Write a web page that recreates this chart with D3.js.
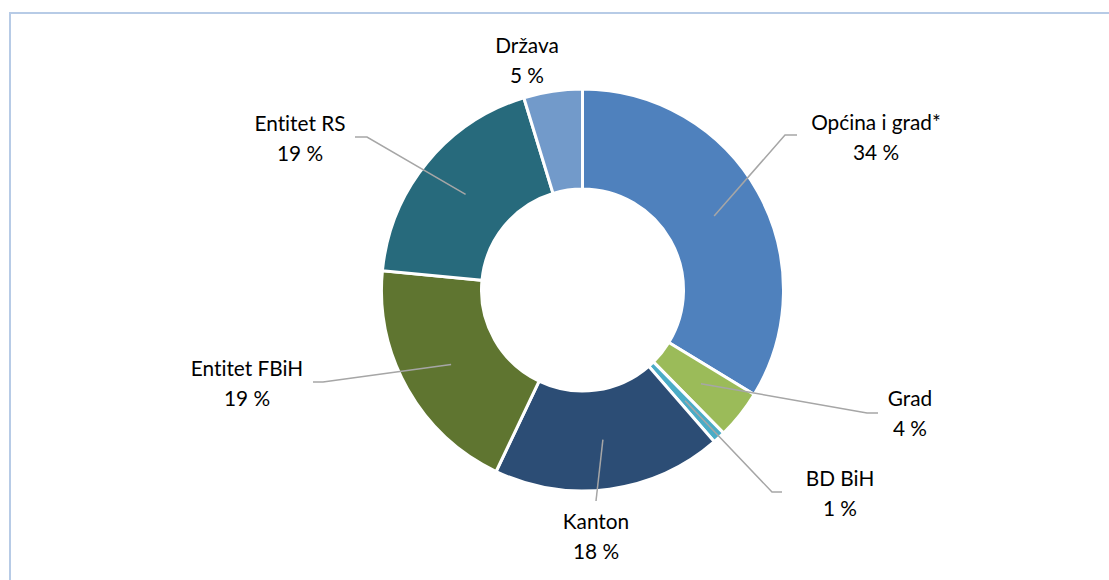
<!DOCTYPE html>
<html>
<head>
<meta charset="utf-8">
<script src="https://cdn.jsdelivr.net/npm/d3@7"></script>
<style>
    body { margin: 0; background: #fff; }
    svg { display: block; }
    .slice-label { font-family: Lato, "Open Sans", sans-serif; font-size: 20.8px; fill: #000; font-variant-ligatures: none; }
    .leader { fill: none; stroke: #a6a6a6; stroke-width: 1.5; }
</style>
</head>
<body>
<svg id="donut" width="1109" height="580"></svg>
<script>
/*** DATA ***/

// categories, clockwise from 12 o'clock
let categories = ["Općina i grad*", "Grad", "BD BiH", "Kanton", "Entitet FBiH", "Entitet RS", "Država"];
// shares
let shares = [33.6, 3.9, 1.0, 18.4, 19.4, 18.7, 4.7];
let colors = ["#4f81bd", "#9bbb59", "#4bacc6", "#2c4d75", "#5f7530", "#276a7c", "#729aca"];

/*** LAYOUT ***/

let svg = d3.select("#donut");
let cx = 582.5, cy = 290,
    r_outer = 201, r_inner = 101;

// label placement: leader bend / end point and text anchor (absolute px)
let label_layout = [
    {bend: [785, 135], end: [797, 135], text: [876, 130]},
    {bend: [867, 413], end: [878, 413], text: [910, 406]},
    {bend: [772, 492], end: [782, 492], text: [840, 486]},
    {bend: null,       end: [596, 501], text: [596, 529]},
    {bend: [323, 382], end: [313, 382], text: [247, 376]},
    {bend: [367, 137], end: [355, 137], text: [300, 131]},
    {bend: null,       end: null,       text: [527, 53]}
];
let line_gap = 29.5;

// frame
svg.append("rect")
    .attr("x", 10).attr("y", 13)
    .attr("width", 1120).attr("height", 600)
    .attr("fill", "none")
    .attr("stroke", "#b7cbe6")
    .attr("stroke-width", 2);

let data = categories.map((c, i) => ({name: c, value: shares[i], color: colors[i], layout: label_layout[i]}));
let total = d3.sum(shares);

let pie = d3.pie().sort(null).value((d) => d.value);
let arc = d3.arc().innerRadius(r_inner).outerRadius(r_outer);

let g = svg.append("g").attr("transform", `translate(${cx}, ${cy})`);
let arcs = pie(data);

g.selectAll("path.slice")
    .data(arcs).enter()
    .append("path")
    .classed("slice", true)
    .attr("d", arc)
    .attr("fill", (d) => d.data.color)
    .attr("stroke", "#fff")
    .attr("stroke-width", 3)
    .attr("stroke-linejoin", "miter");

// leader lines from the slice centroid
svg.selectAll("path.leader")
    .data(arcs.filter((d) => d.data.layout.end)).enter()
    .append("path")
    .classed("leader", true)
    .attr("d", (d) => {
        let c = arc.centroid(d);
        let pts = [[cx + c[0], cy + c[1]]];
        if (d.data.layout.bend) pts.push(d.data.layout.bend);
        pts.push(d.data.layout.end);
        return d3.line()(pts);
    });

// labels: name + rounded percent
let labels = svg.selectAll("text.slice-label")
    .data(arcs).enter()
    .append("text")
    .classed("slice-label", true)
    .attr("text-anchor", "middle")
    .attr("x", (d) => d.data.layout.text[0])
    .attr("y", (d) => d.data.layout.text[1]);

labels.append("tspan")
    .attr("x", (d) => d.data.layout.text[0])
    .text((d) => d.data.name);

labels.append("tspan")
    .attr("x", (d) => d.data.layout.text[0])
    .attr("dy", line_gap)
    .text((d) => Math.round(d.data.value / total * 100) + " %");
</script>
</body>
</html>
